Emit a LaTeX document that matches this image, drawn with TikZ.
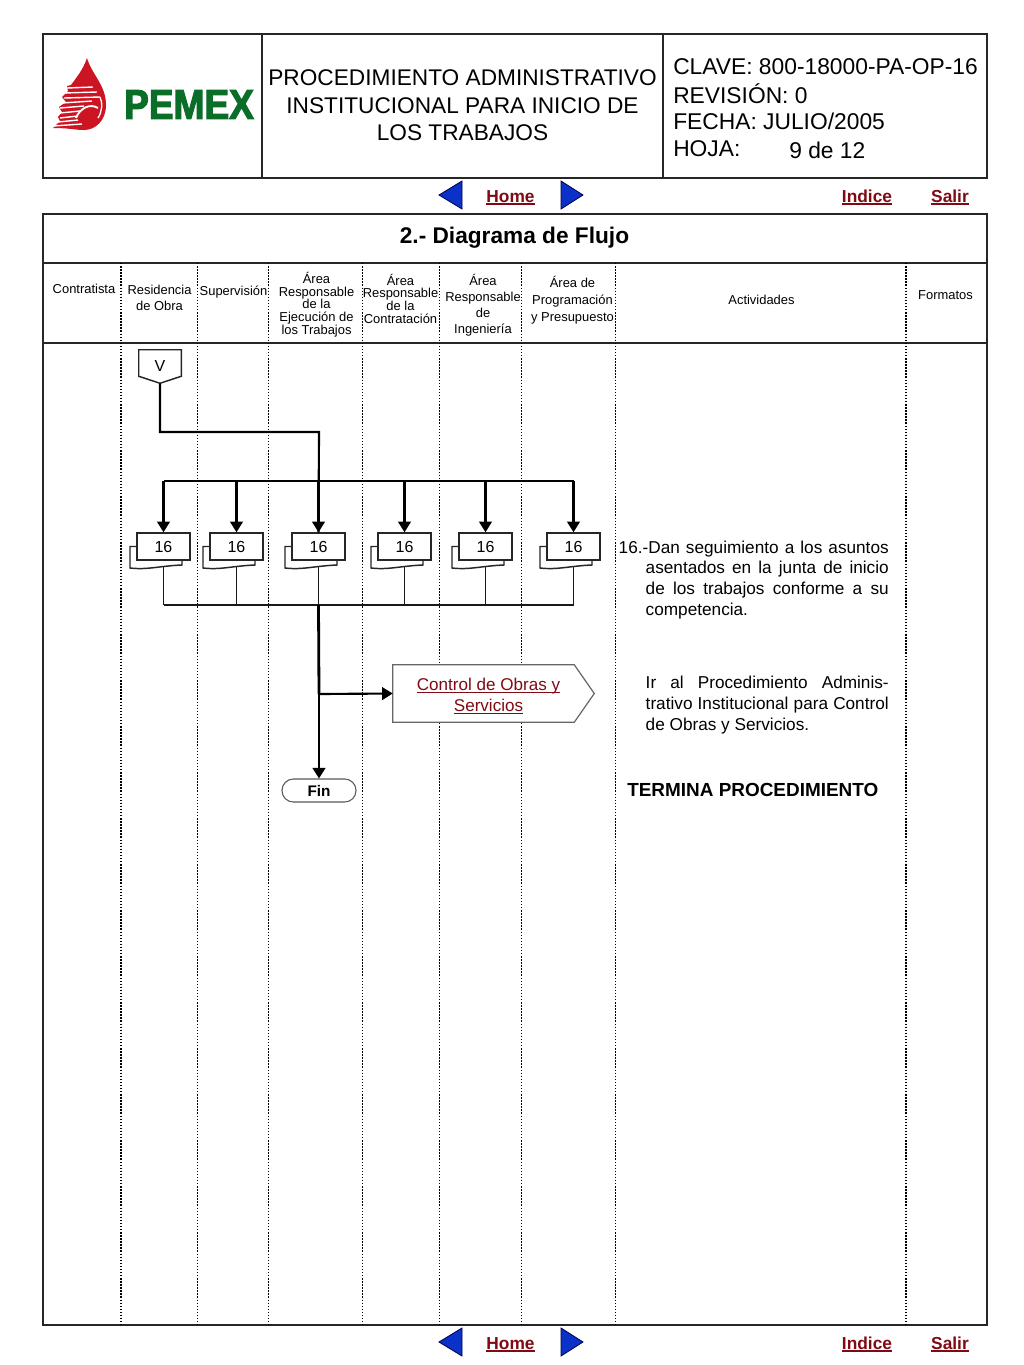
\documentclass[tikz,border=0pt]{standalone}
\usepackage{fontspec}
\setmainfont{Liberation Sans}
\usetikzlibrary{arrows.meta,calc}
\definecolor{linkred}{RGB}{128,10,20}
\definecolor{navblue}{RGB}{10,50,200}
\definecolor{pemexgreen}{RGB}{10,110,40}
\definecolor{pemexred}{RGB}{205,20,35}
\newcommand{\fsz}[2]{\fontsize{#1pt}{#2pt}\selectfont}
\newcommand{\jl}[2]{\makebox[#1][s]{#2}}
\newfontfamily\logofont[FakeBold=3]{Liberation Sans Bold}
\newcommand{\ulk}[2][0.75pt]{\leavevmode\setbox0\hbox{#2}\rlap{\rule[-2.1pt]{\wd0}{#1}}\box0 }
\tikzset{
  x=0.75pt,y=-0.75pt,
  frame/.style={line width=1pt,draw=black!85},
  lane/.style={line width=0.95pt,dash pattern=on 1.1pt off 1.2pt,draw=black},
  hdr/.style={inner sep=0pt,align=center,font=\fsz{9.7}{10}},
  big/.style={inner sep=0pt,font=\fsz{17.1}{20.6}},
  conn/.style={line width=1.6pt,draw=black},
  connthick/.style={line width=2.1pt,draw=black},
  connthin/.style={line width=1.4pt,draw=black!90},
  arrowc/.style={-{Triangle[length=8pt,width=9.5pt]}},
  doc/.style={draw=black!85,line width=1.1pt,fill=white,minimum width=39.75pt,minimum height=20.25pt,inner sep=0pt,font=\fsz{12}{14}},
  tail/.style={draw=black!85,line width=1.1pt,fill=white},
  navlink/.style={inner sep=0pt,anchor=base,font=\fsz{13}{15}\bfseries,text=linkred},
  navarrow/.style={fill=navblue,draw=black!70!blue,line width=0.6pt},
  para/.style={inner sep=0pt,align=right,anchor=north east,font=\fsz{12.9}{15.55}},
}
\begin{document}
\begin{tikzpicture}
\useasboundingbox (0,0) rectangle (1024,1365);
\fill[white] (0,0) rectangle (1024,1365);
% header
\draw[frame] (43,34) rectangle (987,178);
\draw[frame] (262,34) -- (262,178);
\draw[frame] (663,34) -- (663,178);
% logo
\fill[pemexred] (87,58) .. controls (92,75) and (106,85) .. (106,105) .. controls (106,121) and (95,130) .. (84,130) .. controls (75,130) and (70,128) .. (53,128) -- (60,121) -- (58,117) -- (62,112) -- (59,107) -- (66,102) -- (62,97) -- (68,91) -- (67,86) -- (71,85) .. controls (76,78) and (83,70) .. (87,58) -- cycle;
\foreach \ya/\xa/\xb/\yb in {126/53/82/124, 122/58/78/120, 118/60/78/116, 113/60/80/111, 108/60/84/106, 103/62/92/101, 98/64/100/97, 93/64/97/92, 88/67/93/87}{
  \draw[white,line width=1.05pt] (\xa,\ya) -- (\xb,\yb);
}
\draw[white,line width=1.4pt] (76,118) .. controls (80,108) and (90,103) .. (98,108);
\draw[white,line width=1pt] (100,97) .. controls (103,103) and (102,112) .. (98,118);
\node[inner sep=0pt,text=pemexgreen] (logotext) at (189,104.5) {\scalebox{1.09}[1.22]{\logofont\fsz{25.5}{28}PEMEX}};
% title
\node[big,align=center,font=\fsz{17}{20.6}] (title) at (462.5,105.5) {PROCEDIMIENTO ADMINISTRATIVO\\INSTITUCIONAL PARA INICIO DE\\LOS TRABAJOS};
\node[big,anchor=west] (clave) at (673,67) {CLAVE: 800-18000-PA-OP-16};
\node[big,anchor=west] (rev) at (673,93.5) {REVISIÓN: 0};
\node[big,anchor=west] (fecha) at (673,121.5) {FECHA: JULIO/2005};
\node[big,anchor=west] (hoja) at (673,148.5) {HOJA:};
\node[big,anchor=west] (pag) at (789,150) {9 de 12};
% nav bars
\foreach \dy/\nm in {0/a,1147/b}{
  \begin{scope}[yshift=-\dy*0.75pt]
  \draw[navarrow] (439,195) -- (462,181) -- (462,209) -- cycle;
  \draw[navarrow] (561,181) -- (583,195) -- (561,209) -- cycle;
  \node[navlink] (home\nm) at (510.5,202) {\ulk[1.1pt]{Home}};
  \node[navlink] (ind\nm) at (867,202) {\ulk[1.1pt]{Indice}};
  \node[navlink] (sal\nm) at (950,202) {\ulk[1.1pt]{Salir}};
  \end{scope}
}
% main frame
\draw[frame] (43,214) rectangle (987,1325);
\draw[frame] (43,263) -- (987,263);
\draw[frame] (43,343) -- (987,343);
\foreach \x in {121,197.5,268.5,362.5,439.5,521.5,615.5,906}{\draw[lane] (\x,263) -- (\x,1325);}
\node[inner sep=0pt,font=\fsz{17}{20}\bfseries] (sec) at (514.5,237.5) {2.- Diagrama de Flujo};
% column heads
\node[hdr] (h1) at (84,289) {Contratista};
\node[hdr,font=\fsz{9.7}{12.4}] (h2) at (159.5,298) {Residencia\\de Obra};
\node[hdr] (h3) at (233.5,292.5) {Supervisión};
\node[hdr,font=\fsz{9.7}{9.5}] (h4) at (316.5,304.5) {Área\\Responsable\\de la\\Ejecución de\\los Trabajos};
\node[hdr,font=\fsz{9.7}{9.5}] (h5) at (400.5,298.5) {Área\\Responsable\\de la\\Contratación};
\node[hdr,font=\fsz{9.7}{12}] (h6) at (483,305.5) {Área\\Responsable\\de\\Ingeniería};
\node[hdr,font=\fsz{9.7}{12.6}] (h7) at (572.5,300.5) {Área de\\Programación\\y Presupuesto};
\node[hdr] (h8) at (761.5,300) {Actividades};
\node[hdr] (h9) at (945.5,295) {Formatos};
% flow: nodes
\node[inner sep=0pt,minimum width=31.5pt,minimum height=24.75pt,font=\fsz{12}{14}] (v) at (160,366.5) {};
\draw[conn,line width=1.1pt,draw=black!85,fill=white] (v.north west) -- (v.north east) -- ($(v.south east)+(0,-7)$) -- (v.south) -- ($(v.south west)+(0,-7)$) -- cycle;
\node[inner sep=0pt,font=\fsz{12}{14}] (vt) at (160,366) {V};
\coordinate (elb) at (319,432);
\coordinate (busl) at (164,481);
\coordinate (busr) at (574,481);
\foreach \n/\x in {1/163.5,2/236.5,3/318.5,4/404.5,5/485.5,6/573.5}{
  \draw[tail] ($(\x,546.5)+(-33.5,0)$) -- ($(\x,568)+(-33.5,0)$) .. controls ($(\x,570)+(-15,0)$) and ($(\x,566)+(-5,0)$) .. ($(\x,565)+(18.5,0)$) -- ($(\x,560)+(18.5,0)$) -- ($(\x,546.5)+(18.5,0)$) -- cycle;
  \node[doc] (d\n) at (\x,546.5) {16};
  \coordinate (t\n) at (\x,566.5);
  \coordinate (low\n) at (\x,605);
}
% connectors
\draw[conn] (v.south) |- (elb) -- (d3.north);
\draw[connthick] (busl) -- (busr);
\foreach \n in {1,2,3,4,5,6}{
  \draw[conn,arrowc] (d\n.north |- busl) -- (d\n.north);
  \draw[connthin] (t\n) -- (low\n);
}
\draw[connthin] (low1) -- (low6);
% control
\node[inner sep=0pt,minimum width=150.75pt,minimum height=42.75pt] (ctl) at (493.5,693.5) {};
\draw[draw=black!60,line width=0.9pt,fill=white] (ctl.north west) -- ($(ctl.north east)+(-20,0)$) -- (ctl.east) -- ($(ctl.south east)+(-20,0)$) -- (ctl.south west) -- cycle;
\node[inner sep=0pt,align=center,font=\fsz{12.8}{15.6},text=linkred] (ctlt) at (488.5,696) {\ulk{Control de Obras y}\\\ulk{Servicios}};
\node[draw=black!65,line width=0.8pt,rounded corners=8.5pt,minimum width=55.5pt,minimum height=17.25pt,inner sep=0pt,font=\fsz{11.5}{13}\bfseries,fill=white] (fin) at (319,790.5) {Fin};
\coordinate (jct) at (319,694);
\draw[connthick] (low3) -- (jct);
\draw[connthick,arrowc] (jct) -- (fin.north);
\draw[conn,arrowc] (jct) -- (ctl.west);
% text
\node[para] (p1) at (889,540.5) {\jl{202.5pt}{16.-Dan seguimiento a los asuntos}\\\jl{182.25pt}{asentados en la junta de inicio}\\\jl{182.25pt}{de los trabajos conforme a su}\\\makebox[182.25pt][l]{competencia.}};
\node[para] (p2) at (889,676) {\jl{182.25pt}{Ir al Procedimiento Adminis-}\\\jl{182.25pt}{trativo Institucional para Control}\\\makebox[182.25pt][l]{de Obras y Servicios.}};
\node[inner sep=0pt,anchor=west,font=\fsz{14.2}{16}\bfseries] (term) at (627,790) {TERMINA PROCEDIMIENTO};
\end{tikzpicture}
\end{document}
